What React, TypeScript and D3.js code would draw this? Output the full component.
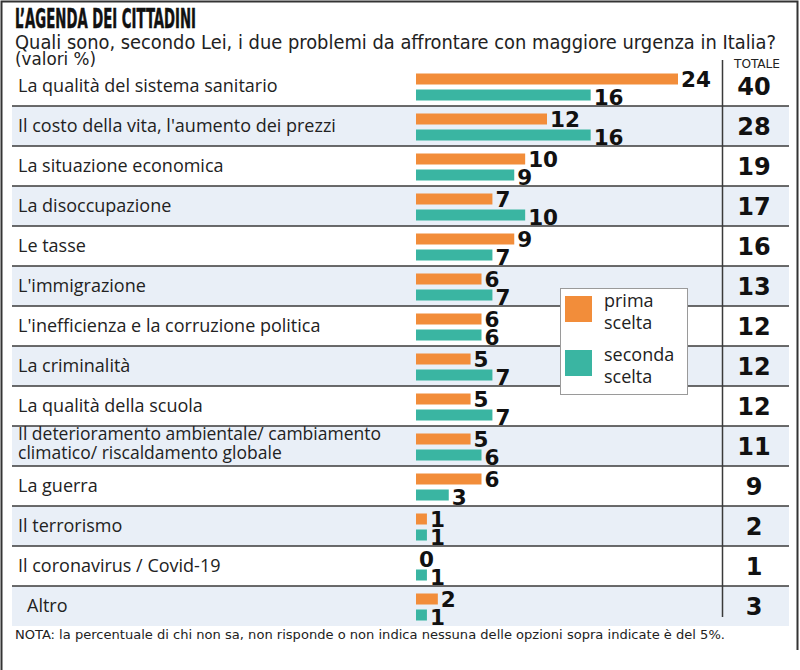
import React from "react";
import * as d3 from "d3";

const title = "L\u2019AGENDA DEI CITTADINI";
const subtitle = "Quali sono, secondo Lei, i due problemi da affrontare con maggiore urgenza in Italia?";
const unitNote = "(valori %)";
const totalHeader = "TOTALE";
const footNote = "NOTA: la percentuale di chi non sa, non risponde o non indica nessuna delle opzioni sopra indicate è del 5%.";

const categories = [
  "La qualità del sistema sanitario",
  "Il costo della vita, l'aumento dei prezzi",
  "La situazione economica",
  "La disoccupazione",
  "Le tasse",
  "L'immigrazione",
  "L'inefficienza e la corruzione politica",
  "La criminalità",
  "La qualità della scuola",
  "Il deterioramento ambientale/ cambiamento\nclimatico/ riscaldamento globale",
  "La guerra",
  "Il terrorismo",
  "Il coronavirus / Covid-19",
  "Altro",
];
const prima = [24, 12, 10, 7, 9, 6, 6, 5, 5, 5, 6, 1, 0, 2];
const seconda = [16, 16, 9, 10, 7, 7, 6, 7, 7, 6, 3, 1, 1, 1];
const totale = [40, 28, 19, 17, 16, 13, 12, 12, 12, 11, 9, 2, 1, 3];
const seriesNames = ["prima\nscelta", "seconda\nscelta"];

const ORANGE = "#F28D3A";
const TEAL = "#3AB5A2";
const BAND = "#E9EFF7";
const LINE = "#3a3a3a";
const TEXT = "#222";

export default function App() {
  const W = 800;
  const H = 670;
  const y = d3.scaleBand<number>().domain(d3.range(categories.length)).range([66, 626]).padding(0);
  const x = d3.scaleLinear().domain([0, 24]).range([416, 678]);
  const bw = y.bandwidth();
  const barH = 11;
  const catFont = "'Open Sans', 'Noto Sans', sans-serif";
  const numFont = "'DejaVu Sans', sans-serif";
  const condFont = "'Liberation Sans Narrow', 'DejaVu Sans Condensed', 'Roboto', sans-serif";

  return (
    <svg width={W} height={H} style={{ position: "absolute", left: 0, top: 0, background: "#fff" }}>
      <rect x={0} y={0} width={W} height={H} fill="#fff" />
      {/* frame */}
      <path d={`M1.5,${H} V1.5 H797.5 V${H - 20}`} fill="none" stroke="#333" strokeWidth={2} />

      {/* header */}
      <text x={15} y={28} fontFamily={condFont} fontWeight={800} fontSize={26} fill="#111" textLength={181} lengthAdjust="spacingAndGlyphs" stroke="#111" strokeWidth={0.5}>
        {title}
      </text>
      <text x={15} y={49} fontFamily={condFont} fontSize={19} fill={TEXT} textLength={761} lengthAdjust="spacingAndGlyphs">
        {subtitle}
      </text>
      <text x={15} y={65} fontFamily={condFont} fontSize={17} fill={TEXT} textLength={81} lengthAdjust="spacingAndGlyphs">
        {unitNote}
      </text>
      <text x={757} y={68} textAnchor="middle" fontFamily={condFont} fontSize={13} fill={TEXT} textLength={46} lengthAdjust="spacingAndGlyphs">
        {totalHeader}
      </text>

      {/* bands */}
      {categories.map((c, i) =>
        i % 2 === 1 ? <rect key={"b" + i} x={12} y={y(i)!} width={777} height={bw} fill={BAND} /> : null
      )}
      {/* separators */}
      {categories.slice(1).map((c, i) => (
        <line key={"s" + i} x1={12} x2={789} y1={y(i + 1)!} y2={y(i + 1)!} stroke={LINE} strokeWidth={1.5} />
      ))}
      <line x1={722.5} x2={722.5} y1={60} y2={617} stroke={LINE} strokeWidth={1.5} />

      {/* rows */}
      {categories.map((c, i) => {
        const top = y(i)!;
        const mid = top + bw / 2;
        const lines = c.split("\n");
        const lx = c === "Altro" ? 27 : 18;
        const oy = top + 7.5;
        const ty = top + 23.5;
        return (
          <g key={"r" + i}>
            {lines.length === 1 ? (
              <text x={lx} y={mid + 6} fontFamily={catFont} fontSize={18} fill={TEXT}>
                {c}
              </text>
            ) : (
              lines.map((l, k) => (
                <text key={k} x={lx} y={mid - 6 + k * 19} fontFamily={catFont} fontSize={17.5} fill={TEXT}>
                  {l}
                </text>
              ))
            )}
            <rect x={x(0)} y={oy} width={x(prima[i]) - x(0)} height={barH} fill={ORANGE} />
            <rect x={x(0)} y={ty} width={x(seconda[i]) - x(0)} height={barH} fill={TEAL} />
            <text x={x(prima[i]) + 3} y={oy + barH + 2} fontFamily={numFont} fontWeight={700} fontSize={21.5} fill="#111">
              {prima[i]}
            </text>
            <text x={x(seconda[i]) + 3} y={ty + barH + 4} fontFamily={numFont} fontWeight={700} fontSize={21.5} fill="#111">
              {seconda[i]}
            </text>
            <text x={754} y={mid + 9} textAnchor="middle" fontFamily={numFont} fontWeight={700} fontSize={24} fill="#111">
              {totale[i]}
            </text>
          </g>
        );
      })}

      {/* legend */}
      <g>
        <rect x={560.5} y={288.5} width={127} height={106} fill="#fff" stroke="#9a9a9a" strokeWidth={1} />
        {[ORANGE, TEAL].map((col, k) => {
          const sy = 296 + k * 54;
          return (
            <g key={"l" + k}>
              <rect x={565} y={sy} width={27} height={26} fill={col} />
              {seriesNames[k].split("\n").map((t, j) => (
                <text key={j} x={604} y={sy + 11 + j * 22} fontFamily={catFont} fontSize={18} fill={TEXT}>
                  {t}
                </text>
              ))}
            </g>
          );
        })}
      </g>

      {/* footnote */}
      <text x={15} y={639} fontFamily={condFont} fontSize={13} fill={TEXT} textLength={710} lengthAdjust="spacingAndGlyphs">
        {footNote}
      </text>
    </svg>
  );
}
